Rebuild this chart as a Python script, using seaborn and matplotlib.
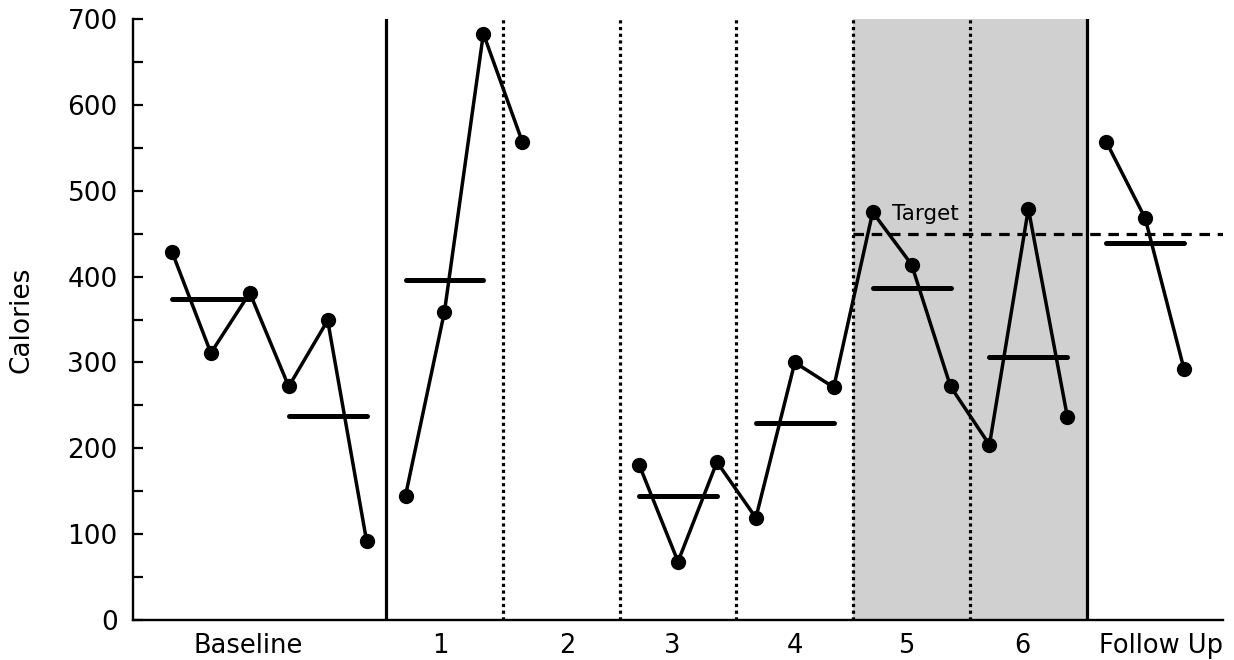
import pandas as pd
import matplotlib
matplotlib.use("Agg")
import matplotlib.pyplot as plt
import seaborn as sns

# Calories per session, one list per phase
baseline = [429, 311, 381, 272, 349, 92]
phase1 = [145, 359, 683]
phase2 = [557]
phase3 = [181, 68, 184]
phase4 = [119, 300, 271]
phase5 = [475, 414, 272]
phase6 = [204, 479, 237]
follow_up = [557, 468, 292]

# first session number of each phase
phase_start = [1, 7, 10, 13, 16, 19, 22, 25]
phase_names = ["Baseline", "1", "2", "3", "4", "5", "6", "Follow Up"]
phase_values = [baseline, phase1, phase2, phase3, phase4, phase5, phase6, follow_up]
# which connected line each phase belongs to
phase_segment = [0, 1, 1, 2, 2, 2, 2, 3]
target = 450

rows = []
for name, start, vals, seg in zip(phase_names, phase_start, phase_values, phase_segment):
    for j, v in enumerate(vals):
        # mean lines are drawn per block of 3 sessions
        rows.append({"session": start + j, "calories": v, "phase": name,
                     "segment": seg, "block": f"{name}_{j // 3}"})
df = pd.DataFrame(rows)

sns.set_style("ticks")
plt.rcParams["font.family"] = ["DejaVu Sans"]
for k in ["text.color", "axes.labelcolor", "xtick.color", "ytick.color", "axes.edgecolor"]:
    plt.rcParams[k] = "black"

fig = plt.figure(figsize=(12.34, 6.6), dpi=100)
ax = fig.add_axes([0.1078, 0.0606, 0.8833, 0.9106])

# shaded phases 5 and 6
ax.axvspan(18.5, 24.5, color="#d0d0d0", lw=0, zorder=0)

# phase change lines
for x in [6.5, 24.5]:
    ax.axvline(x, color="black", lw=2.3, zorder=1)
for x in [9.5, 12.5, 15.5, 18.5, 21.5]:
    ax.axvline(x, color="black", lw=2.3, linestyle=(0, (1, 1.1)), zorder=1)

# target line
ax.hlines(target, 18.5, 28, colors="black", lw=2.3, linestyles=(0, (3.3, 2.4)), zorder=2)
ax.text(19.5, 466, "Target", fontsize=15.5, ha="left", va="baseline", zorder=3)

# data
sns.lineplot(data=df, x="session", y="calories", units="segment", estimator=None,
             color="black", lw=2.5, marker="o", markersize=11, markeredgecolor="black",
             markeredgewidth=0, ax=ax, zorder=4)

# block means (skip single point blocks)
means = df.groupby("block").agg(start=("session", "min"), end=("session", "max"),
                                mean=("calories", "mean"), n=("calories", "size"))
means = means[means["n"] > 1]
ax.hlines(means["mean"], means["start"], means["end"], colors="black", lw=3.6,
          capstyle="round", zorder=4)

ax.set_xlim(0, 28)
ax.set_ylim(0, 700)
ax.set_yticks(range(0, 701, 100))
ax.set_yticks(range(50, 700, 100), minor=True)
ax.set_xticks([2.95, 7.9, 11.15, 13.85, 17, 19.85, 22.85, 26.4])
ax.set_xticklabels(phase_names)
ax.tick_params(axis="y", which="both", direction="in", length=7.5, width=1.6,
               labelsize=19, pad=11)
ax.tick_params(axis="x", length=0, labelsize=18.5, pad=9)
ax.set_xlabel("")
ax.set_ylabel("Calories", fontsize=19, labelpad=24)

sns.despine(ax=ax)
for s in ["left", "bottom"]:
    ax.spines[s].set_linewidth(1.7)

fig.savefig("out.png", dpi=100)
